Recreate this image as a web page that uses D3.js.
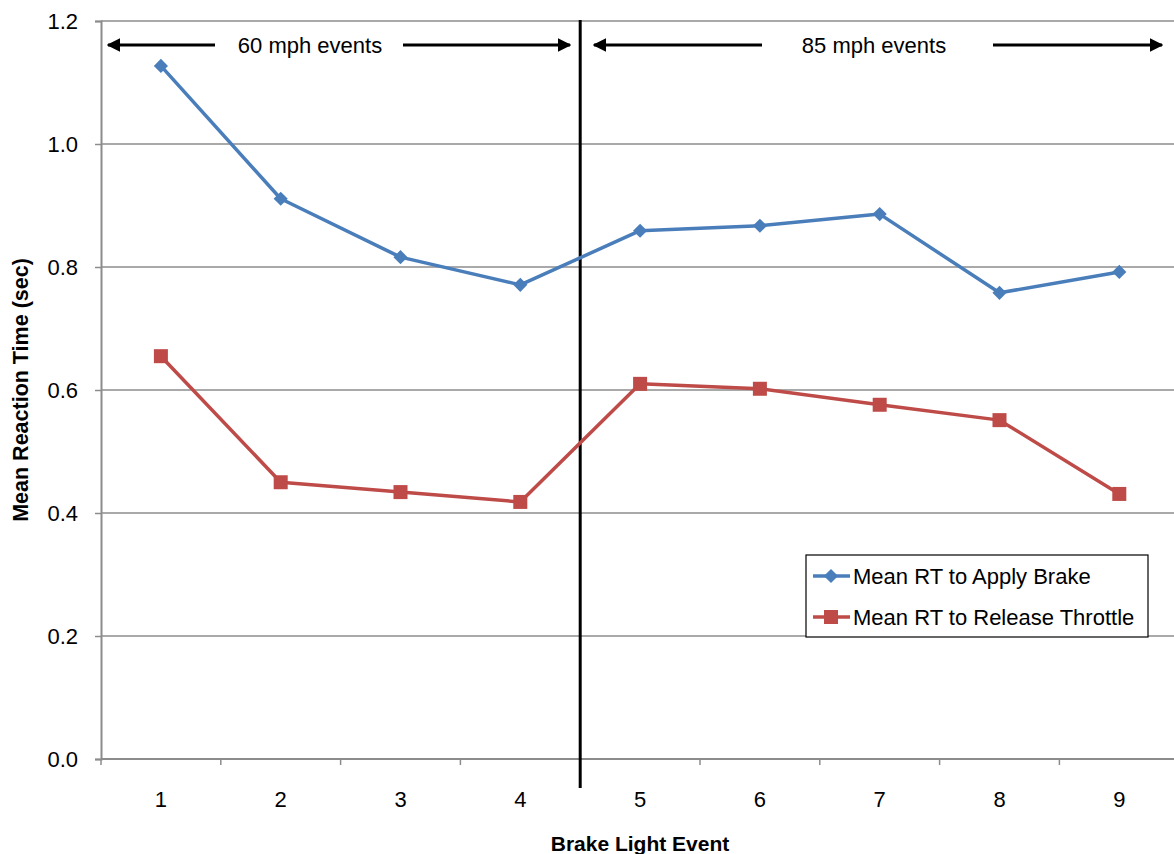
<!DOCTYPE html>
<html><head><meta charset="utf-8">
<script src="https://cdn.jsdelivr.net/npm/d3@7"></script>
<style>body{margin:0;background:#fff;}svg{display:block;font-family:"Liberation Sans",Arial,sans-serif;}</style>
</head><body>
<svg id="c" width="1174" height="854"></svg>
<script>
const events = [1,2,3,4,5,6,7,8,9];
const applyBrake = [1.127,0.911,0.816,0.771,0.859,0.867,0.886,0.758,0.792];
const releaseThrottle = [0.655,0.450,0.434,0.418,0.610,0.602,0.576,0.551,0.431];
const yTicks = [0.0,0.2,0.4,0.6,0.8,1.0,1.2];
const seriesNames = ["Mean RT to Apply Brake","Mean RT to Release Throttle"];
const seriesColors = ["#4a7ebb","#be4b48"];
const phaseLabels = ["60 mph events","85 mph events"];

const svg = d3.select("#c");
const L=101, T=21, B=759, bw=119.8;
const FF = "Liberation Sans, Arial, sans-serif";
const x = d3.scaleBand().domain(events).range([L, L+bw*events.length]).padding(0);
const y = d3.scaleLinear().domain([0,1.2]).range([B,T]);
const cx = d => x(d)+x.bandwidth()/2;

// gridlines
svg.append("g").selectAll("line").data(yTicks.filter(d=>d>0)).join("line")
  .attr("x1",L).attr("x2",1174).attr("y1",d=>y(d)).attr("y2",d=>y(d))
  .attr("stroke","#8c8c8c").attr("stroke-width",1.5);

// y axis
const ya = svg.append("g").attr("transform",`translate(${L},0)`)
  .call(d3.axisLeft(y).tickValues(yTicks).tickFormat(d3.format(".1f")).tickSize(6).tickPadding(17));
ya.select(".domain").attr("stroke","#8c8c8c").attr("stroke-width",2);
ya.selectAll(".tick line").attr("stroke","#8c8c8c").attr("stroke-width",1.5);
ya.selectAll("text").attr("font-size",22).attr("fill","#000").attr("font-family",FF);

// x axis
const xa = svg.append("g").attr("transform",`translate(0,${B})`)
  .call(d3.axisBottom(x).tickSize(0).tickPadding(32));
xa.select(".domain").remove();
xa.selectAll("text").attr("font-size",22).attr("fill","#000").attr("font-family",FF);
svg.append("line").attr("x1",L).attr("x2",1174).attr("y1",B).attr("y2",B).attr("stroke","#8c8c8c").attr("stroke-width",2);
svg.append("g").selectAll("line").data(events).join("line")
  .attr("x1",d=>x(d)).attr("x2",d=>x(d)).attr("y1",B).attr("y2",B+6)
  .attr("stroke","#8c8c8c").attr("stroke-width",1.5);

// divider
const divX = x(5);
svg.append("line").attr("x1",divX).attr("x2",divX).attr("y1",T-1).attr("y2",788)
  .attr("stroke","#000").attr("stroke-width",3);

// arrows
const defs = svg.append("defs");
defs.append("marker").attr("id","ah").attr("viewBox","0 0 10 10").attr("refX",9).attr("refY",5)
  .attr("markerWidth",4.5).attr("markerHeight",4.5).attr("orient","auto-start-reverse")
  .append("path").attr("d","M0,0 L10,5 L0,10 Z").attr("fill","#000");
const ay = 45;
const arrows = [
  {x1:215,x2:108},{x1:403,x2:570},{x1:762,x2:594},{x1:993,x2:1162}
];
svg.append("g").selectAll("line").data(arrows).join("line")
  .attr("x1",d=>d.x1).attr("x2",d=>d.x2).attr("y1",ay).attr("y2",ay)
  .attr("stroke","#000").attr("stroke-width",3).attr("marker-end","url(#ah)");
svg.append("text").attr("x",310).attr("y",ay+8).attr("text-anchor","middle")
  .attr("font-size",22).text(phaseLabels[0]);
svg.append("text").attr("x",874).attr("y",ay+8).attr("text-anchor","middle")
  .attr("font-size",22).text(phaseLabels[1]);

// series
const line = d3.line().x((d,i)=>cx(events[i])).y(d=>y(d));
[applyBrake, releaseThrottle].forEach((s,k)=>{
  svg.append("path").datum(s).attr("d",line).attr("fill","none")
    .attr("stroke",seriesColors[k]).attr("stroke-width",3.5).attr("stroke-linejoin","round");
});
svg.append("g").selectAll("rect").data(applyBrake).join("rect")
  .attr("x",-5).attr("y",-5).attr("width",10).attr("height",10)
  .attr("transform",(d,i)=>`translate(${cx(events[i])},${y(d)}) rotate(45)`)
  .attr("fill",seriesColors[0]);
svg.append("g").selectAll("rect").data(releaseThrottle).join("rect")
  .attr("x",(d,i)=>cx(events[i])-7).attr("y",d=>y(d)-7).attr("width",14).attr("height",14)
  .attr("fill",seriesColors[1]);

// legend
const lg = svg.append("g");
lg.append("rect").attr("x",806).attr("y",555).attr("width",342).attr("height",82)
  .attr("fill","#fff").attr("stroke","#000").attr("stroke-width",1.2);
seriesNames.forEach((n,k)=>{
  const ly = 576 + k*41;
  lg.append("line").attr("x1",813).attr("x2",850).attr("y1",ly).attr("y2",ly)
    .attr("stroke",seriesColors[k]).attr("stroke-width",3.5);
  if(k===0){
    lg.append("rect").attr("x",-5).attr("y",-5).attr("width",10).attr("height",10)
      .attr("transform",`translate(831,${ly}) rotate(45)`).attr("fill",seriesColors[k]);
  } else {
    lg.append("rect").attr("x",824).attr("y",ly-7).attr("width",14).attr("height",14).attr("fill",seriesColors[k]);
  }
  lg.append("text").attr("x",853).attr("y",ly+8).attr("font-size",22).text(n);
});

// axis titles
svg.append("text").attr("x",640).attr("y",851).attr("text-anchor","middle")
  .attr("font-size",21).attr("font-weight","bold").text("Brake Light Event");
svg.append("text").attr("transform","translate(28,390) rotate(-90)").attr("text-anchor","middle")
  .attr("font-size",21.5).attr("font-weight","bold").text("Mean Reaction Time (sec)");
</script>
</body></html>
